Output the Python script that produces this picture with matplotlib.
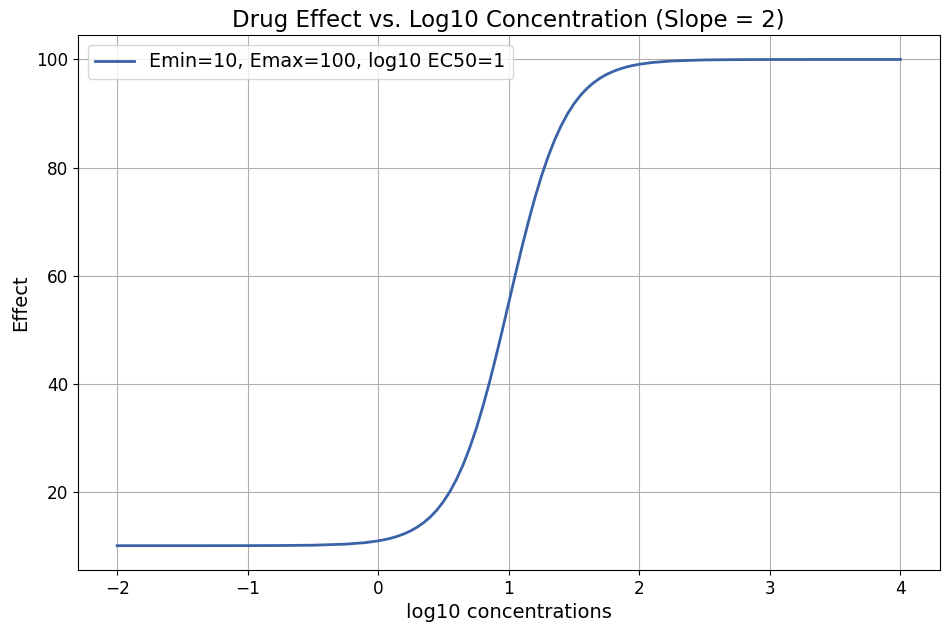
import matplotlib
matplotlib.use("Agg")
import matplotlib.pyplot as plt

# values (denser where it bends)
log_conc = [-2.0, -1.5, -1.0, -0.75, -0.5, -0.25, -0.1, 0.0, 0.05, 0.1, 0.15, 0.2, 0.25, 0.3,
            0.35, 0.4, 0.45, 0.5, 0.55, 0.6, 0.65, 0.7, 0.75, 0.8, 0.85, 0.9, 0.95, 1.0,
            1.05, 1.1, 1.15, 1.2, 1.25, 1.3, 1.35, 1.4, 1.45, 1.5, 1.55, 1.6, 1.65, 1.7,
            1.75, 1.8, 1.85, 1.9, 1.95, 2.0, 2.1, 2.25, 2.5, 2.75, 3.0, 3.5, 4.0]
effect = [10.0, 10.0, 10.01, 10.03, 10.09, 10.28, 10.56, 10.89, 11.12, 11.40, 11.76, 12.21, 12.76, 13.45,
          14.30, 15.34, 16.62, 18.18, 20.06, 22.31, 24.97, 28.07, 31.62, 35.62, 40.05, 44.82, 49.84, 55.0,
          60.16, 65.18, 69.95, 74.38, 78.38, 81.93, 85.03, 87.69, 89.94, 91.82, 93.38, 94.66, 95.70, 96.55,
          97.24, 97.79, 98.24, 98.60, 98.88, 99.11, 99.44, 99.72, 99.91, 99.97, 99.99, 100.0, 100.0]
label = "Emin=10, Emax=100, log10 EC50=1"

fig, ax = plt.subplots(figsize=(9.51, 6.39), dpi=100)
fig.subplots_adjust(left=0.082, right=0.988, top=0.945, bottom=0.108)

ax.plot(log_conc, effect, color="#3a62a7", linewidth=2.0, label=label)
ax.set_title("Drug Effect vs. Log10 Concentration (Slope = 2)", fontsize=16.5)
ax.set_xlabel("log10 concentrations", fontsize=14)
ax.set_ylabel("Effect", fontsize=14)
ax.tick_params(labelsize=12.2)
ax.set_yticks([20, 40, 60, 80, 100])
ax.grid(True)
ax.legend(loc="upper left", fontsize=13.8)

fig.savefig("out.png", dpi=100)
